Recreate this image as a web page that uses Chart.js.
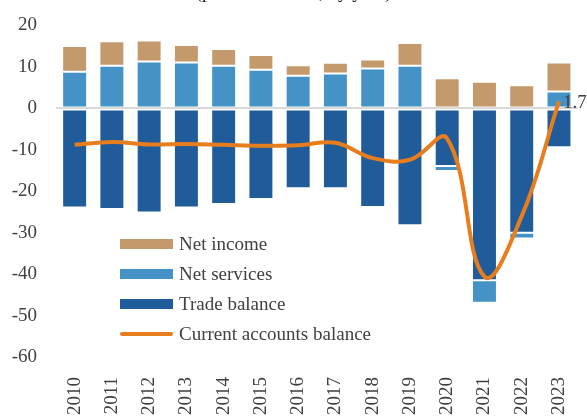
<!DOCTYPE html>
<html>
<head>
<meta charset="utf-8">
<script src="https://cdn.jsdelivr.net/npm/chart.js@4.4.1/dist/chart.umd.min.js"></script>
<style>
  html, body { margin: 0; padding: 0; background: #ffffff; overflow: hidden; }
  #wrap { position: relative; width: 587px; height: 418px; overflow: hidden; }
  #title { position: absolute; top: -18px; left: 0; width: 587px; text-align: center;
           font-family: 'Liberation Serif', serif; font-size: 19px; line-height: 19px; color: #202020; }
  #legend { position: absolute; left: 120px; top: 229px; font-family: 'Liberation Serif', serif;
            font-size: 19px; color: #404040; }
  .row { display: flex; align-items: center; height: 30px; }
  .sw { width: 53px; margin-right: 6px; }
</style>
</head>
<body>
<div id="wrap">
  <canvas id="c" width="587" height="418"></canvas>
  <div id="title">(percent of GDP, by year)</div>
  <div id="legend"></div>
</div>
<script>
const years = ['2010','2011','2012','2013','2014','2015','2016','2017','2018','2019','2020','2021','2022','2023'];
const netIncome      = [6.2, 5.9, 5.1, 4.2, 4.0, 3.6, 2.5, 2.6, 2.2, 5.5, 7.3, 6.4, 5.6, 7.0];
const netServices    = [8.85, 10.3, 11.3, 11.1, 10.3, 9.3, 7.9, 8.4, 9.6, 10.3, -1.2, -5.4, -1.4, 4.1];
const tradeBalance   = [-23.9, -24.3, -25.1, -23.9, -23.1, -21.9, -19.3, -19.3, -23.8, -28.2, -13.9, -41.5, -30.0, -9.4];
const currentAccount = [-8.8, -8.1, -8.7, -8.6, -8.8, -9.0, -8.9, -8.3, -12.0, -12.4, -7.3, -40.6, -26.0, 1.7];
const yTicks = [20, 10, 0, -10, -20, -30, -40, -50, -60];

const C_INCOME = '#C49A6C', C_SERV = '#4593C6', C_TRADE = '#1F5C99', C_CA = '#E87D1E';

Chart.defaults.font.family = "'Liberation Serif', serif";
Chart.defaults.font.size = 19;
Chart.defaults.color = '#404040';

const lastLabel = {
  id: 'lastLabel',
  afterDatasetsDraw(chart) {
    const idx = chart.data.datasets.findIndex(d => d.type === 'line');
    const meta = chart.getDatasetMeta(idx);
    const pts = meta.data;
    const p = pts[pts.length - 1];
    const v = chart.data.datasets[idx].data[pts.length - 1];
    const ctx = chart.ctx;
    ctx.save();
    ctx.font = "19px 'Liberation Serif', serif";
    ctx.fillStyle = '#404040';
    ctx.textAlign = 'left';
    ctx.textBaseline = 'middle';
    ctx.fillText(v.toFixed(1), p.x + 4, p.y + 2);
    ctx.restore();
  }
};

const bord = 'rgba(255,255,255,0.45)';
const chart = new Chart(document.getElementById('c'), {
  data: {
    labels: years,
    datasets: [
      { type: 'line', label: 'Current accounts balance', data: currentAccount, borderColor: C_CA,
        backgroundColor: C_CA, borderWidth: 4, pointRadius: 0, tension: 0.4, order: 0, fill: false },
      { type: 'bar', label: 'Trade balance', data: tradeBalance, backgroundColor: C_TRADE,
        borderColor: bord, borderWidth: 1, borderSkipped: false, stack: 's', order: 1 },
      { type: 'bar', label: 'Net services', data: netServices, backgroundColor: C_SERV,
        borderColor: bord, borderWidth: 1, borderSkipped: false, stack: 's', order: 1 },
      { type: 'bar', label: 'Net income', data: netIncome, backgroundColor: C_INCOME,
        borderColor: bord, borderWidth: 1, borderSkipped: false, stack: 's', order: 1 }
    ]
  },
  options: {
    responsive: false,
    animation: false,
    devicePixelRatio: 1,
    datasets: { bar: { barPercentage: 0.67, categoryPercentage: 1.0 } },
    layout: { padding: { top: 25.5, right: 9.4, left: 0, bottom: 0 } },
    plugins: { legend: { display: false }, tooltip: { enabled: false }, title: { display: false } },
    scales: {
      x: {
        stacked: true,
        grid: { display: false },
        border: { display: false },
        ticks: { minRotation: 90, maxRotation: 90, padding: 12, color: '#404040' },
        afterFit(s) { s.height = 61; s.paddingLeft = 0; s.paddingRight = 0; }
      },
      y: {
        stacked: true,
        min: -60, max: 20,
        afterBuildTicks(s) { s.ticks = yTicks.map(v => ({ value: v })); },
        grid: {
          drawTicks: false,
          color: c => (c.tick && c.tick.value === 0) ? '#d9d9d9' : 'rgba(0,0,0,0)',
          lineWidth: 2
        },
        border: { display: false },
        ticks: { padding: 19, color: '#404040' },
        afterFit(s) { s.width = 56; s.paddingTop = 0; s.paddingBottom = 0; }
      }
    }
  },
  plugins: [lastLabel]
});

// HTML legend built from the chart datasets, in the reference order
const order = ['Net income', 'Net services', 'Trade balance', 'Current accounts balance'];
const lg = document.getElementById('legend');
order.forEach(name => {
  const ds = chart.data.datasets.find(d => d.label === name);
  const row = document.createElement('div');
  row.className = 'row';
  const sw = document.createElement('div');
  sw.className = 'sw';
  if (ds.type === 'line') {
    sw.style.height = '4px';
    sw.style.borderRadius = '2px';
    sw.style.background = ds.borderColor;
  } else {
    sw.style.height = '10px';
    sw.style.background = ds.backgroundColor;
  }
  const tx = document.createElement('span');
  tx.textContent = name;
  row.appendChild(sw);
  row.appendChild(tx);
  lg.appendChild(row);
});
</script>
</body>
</html>
